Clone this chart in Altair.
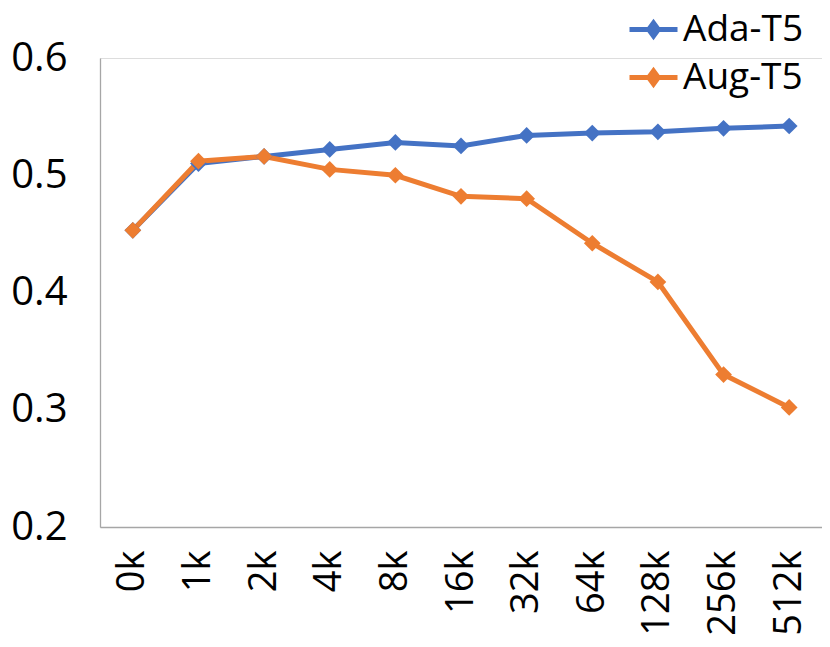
import altair as alt
import pandas as pd

steps = ["0k", "1k", "2k", "4k", "8k", "16k", "32k", "64k", "128k", "256k", "512k"]
ada_t5 = [0.453, 0.510, 0.516, 0.522, 0.528, 0.525, 0.534, 0.536, 0.537, 0.540, 0.542]
aug_t5 = [0.453, 0.512, 0.516, 0.505, 0.500, 0.482, 0.480, 0.442, 0.409, 0.330, 0.302]
series_names = ["Ada-T5", "Aug-T5"]
series_colors = ["#4472C4", "#ED7D31"]
y_ticks = [0.2, 0.3, 0.4, 0.5, 0.6]

rows = []
for name, vals in zip(series_names, [ada_t5, aug_t5]):
    for st, v in zip(steps, vals):
        rows.append({"step": st, "score": v, "series": name})
df = pd.DataFrame(rows)

FONT = "Open Sans"

x_enc = alt.X(
    "step:N",
    sort=steps,
    title=None,
    scale=alt.Scale(padding=0.5),
    axis=alt.Axis(
        labelAngle=-90,
        labelAlign="right",
        labelBaseline="middle",
        labelFontSize=38,
        labelFont=FONT,
        labelColor="#000000",
        labelPadding=23,
        ticks=False,
        grid=False,
        domainColor="#A6A6A6",
        domainWidth=1.3,
    ),
)
y_enc = alt.Y(
    "score:Q",
    title=None,
    scale=alt.Scale(domain=[0.2, 0.6], nice=False, zero=False),
    axis=alt.Axis(
        values=y_ticks,
        format=".1f",
        labelFontSize=40,
        labelFont=FONT,
        labelColor="#000000",
        labelPadding=33,
        ticks=False,
        grid=False,
        domainColor="#A6A6A6",
        domainWidth=1.3,
    ),
)
color_enc = alt.Color(
    "series:N",
    sort=series_names,
    scale=alt.Scale(domain=series_names, range=series_colors),
    legend=alt.Legend(
        title=None,
        orient="none",
        legendX=535,
        legendY=-47,
        symbolType="M-2,0H2M0,-0.55L0.4,0L0,0.55L-0.4,0Z",
        symbolSize=576,
        symbolStrokeWidth=5,
        labelFontSize=37,
        labelFont=FONT,
        labelColor="#000000",
        labelOffset=11,
        rowPadding=10,
        labelLimit=300,
    ),
)

base = alt.Chart(df).encode(x=x_enc, y=y_enc, color=color_enc)
lines = base.mark_line(strokeWidth=5)
points = base.mark_point(shape="diamond", filled=True, size=280, opacity=1)

chart = (
    alt.layer(lines, points)
    .properties(
        width=722,
        height=469,
        autosize=alt.AutoSizeParams(type="none"),
        padding={"left": 92, "top": 50, "right": 0, "bottom": 110},
    )
    .configure_view(stroke=None)
    .configure(background="#FFFFFF")
)

chart.save("out.html", embed_options={"renderer": "svg", "actions": False})
